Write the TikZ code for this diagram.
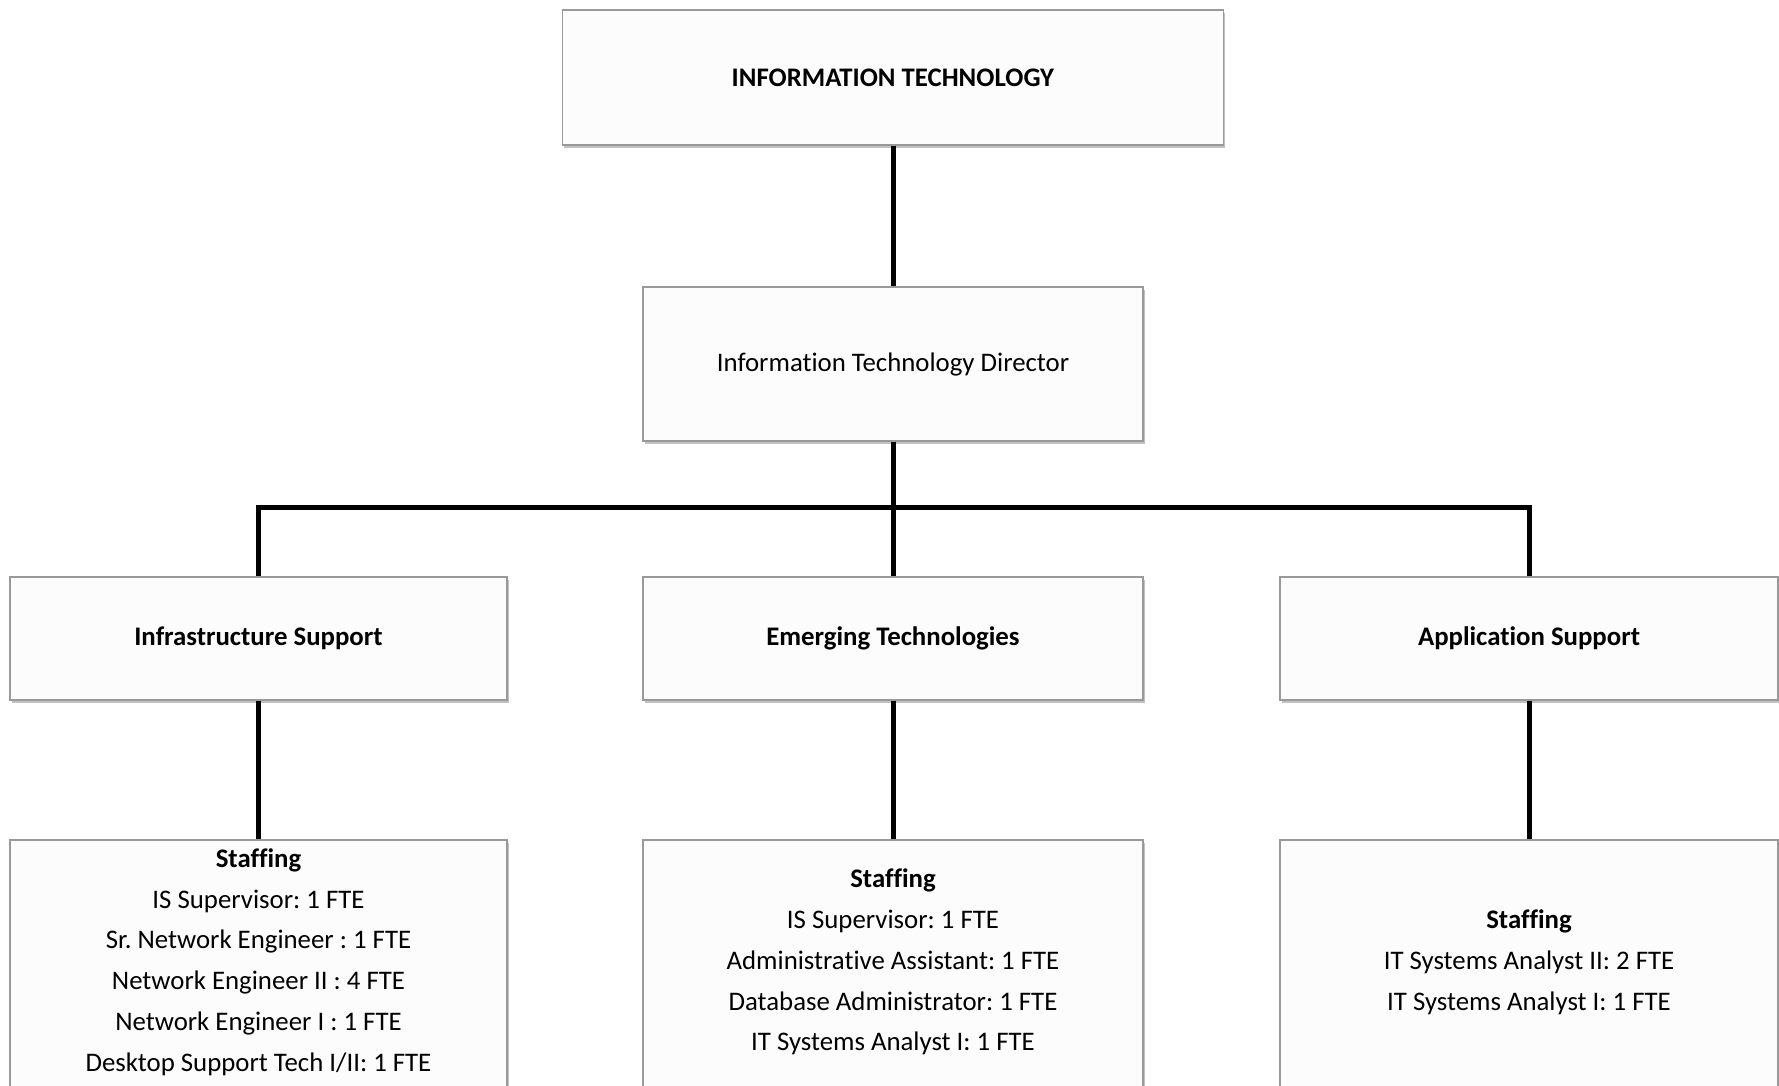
\documentclass[tikz,border=0pt]{standalone}
\usepackage{fontspec}
\setmainfont[Ligatures=NoCommon]{Carlito}
\frenchspacing
\usetikzlibrary{shadows}
\tikzset{
  boxtext/.style={font=\fontsize{13.4}{20.4}\selectfont, align=center, inner sep=0pt},
  unitbox/.style={boxtext, draw=black!40, fill=black!1, line width=0.8pt,
    drop shadow={shadow xshift=0.8pt, shadow yshift=-1.6pt, fill=black!35, opacity=0.7}},
  orgline/.style={line width=2.5pt}
}
\begin{document}
\begin{tikzpicture}[x=0.5pt,y=-0.5pt]
%\draw[step=100,gray,very thin] (0,0) grid (1779,1086); %background grid
\useasboundingbox (0,0) rectangle (1779,1086);
\node[unitbox, minimum width=330.5pt, minimum height=67.5pt] (it) at (893,77.5) {\textbf{INFORMATION TECHNOLOGY}};
\node[unitbox, minimum width=250pt, minimum height=77pt] (dir) at (893,364) {Information Technology Director};
\node[unitbox, minimum width=248.5pt, minimum height=61.5pt] (infra) at (258.5,638.5) {\textbf{Infrastructure Support}};
\node[unitbox, minimum width=250pt, minimum height=61.5pt] (emerg) at (893,638.5) {\textbf{Emerging Technologies}};
\node[unitbox, minimum width=249pt, minimum height=61.5pt] (app) at (1529,638.5) {\textbf{Application Support}};
\node[unitbox, minimum width=248.5pt, minimum height=127pt] (infrastaff) at (258.5,967) {};
\node[unitbox, minimum width=250pt, minimum height=127pt] (emergstaff) at (893,967) {};
\node[unitbox, minimum width=249pt, minimum height=127pt] (appstaff) at (1529,967) {};
% staffing lists
\node[boxtext] (infralist) at (258.5,962) {\textbf{Staffing}\\IS Supervisor: 1 FTE\\Sr. Network Engineer : 1 FTE\\Network Engineer II : 4 FTE\\Network Engineer I : 1 FTE\\Desktop Support Tech I/II: 1 FTE};
\node[boxtext] (emerglist) at (893,962) {\textbf{Staffing}\\IS Supervisor: 1 FTE\\Administrative Assistant: 1 FTE\\Database Administrator: 1 FTE\\IT Systems Analyst I: 1 FTE};
\node[boxtext] (applist) at (1529,962) {\textbf{Staffing}\\IT Systems Analyst II: 2 FTE\\IT Systems Analyst I: 1 FTE};
\coordinate (bus) at (893,507);
\draw[orgline] (it) -- (dir);
\draw[orgline] (dir) -- (emerg);
\draw[orgline] (bus) -| (infra);
\draw[orgline] (bus) -| (app);
\draw[orgline] (infra) -- (infrastaff);
\draw[orgline] (emerg) -- (emergstaff);
\draw[orgline] (app) -- (appstaff);
\end{tikzpicture}
\end{document}
